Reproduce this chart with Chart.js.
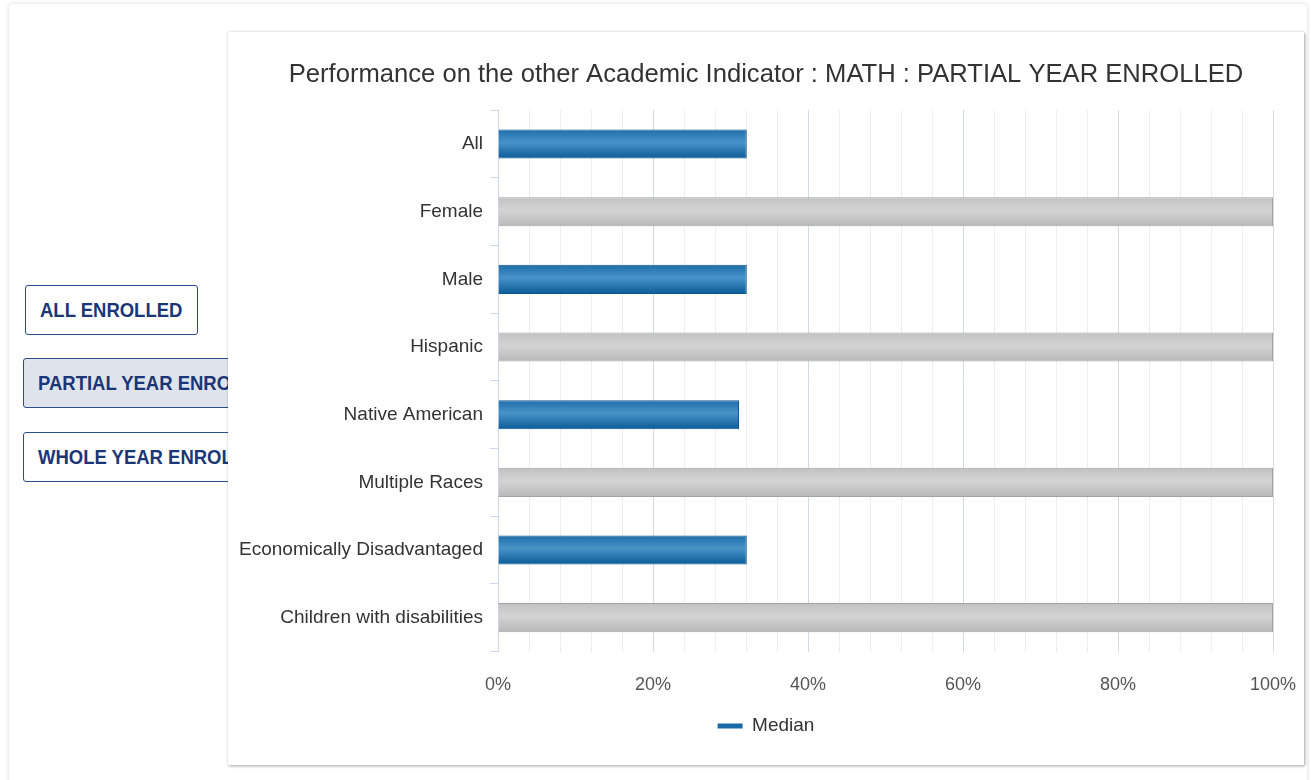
<!DOCTYPE html>
<html>
<head>
<meta charset="utf-8">
<script src="https://cdn.jsdelivr.net/npm/chart.js@4/dist/chart.umd.min.js"></script>
<style>
    html, body { margin: 0; padding: 0; background: #ffffff; }
    body { width: 1311px; height: 780px; position: relative; overflow: hidden; font-family: "Liberation Sans", Arial, sans-serif; }
    .page { position: absolute; left: 9px; top: 4px; width: 1298px; height: 800px; background: #fff;
        border-radius: 4px; box-shadow: 0 0 4px rgba(0, 0, 0, 0.16); }
    .btn { position: absolute; box-sizing: border-box; height: 50px; border: 1.5px solid #2f4c8c; border-radius: 3px;
        background: #fff; color: #1b3676; font-family: "Liberation Sans", Arial, sans-serif;
        font-weight: bold; font-size: 21px; line-height: 47px; padding-left: 14px; white-space: nowrap; overflow: hidden; }
    .btn span { display: inline-block; transform: scaleX(0.88); transform-origin: 0 50%; }
    .btn.active { background: #dfe3ec; }
    .card { position: absolute; left: 228px; top: 32px; width: 1076px; height: 733px; background: #fff;
        box-shadow: 1px 1px 3px rgba(0, 0, 0, 0.35), 0 0 2px rgba(0, 0, 0, 0.08); z-index: 2; }
</style>
</head>
<body>
<div class="page"></div>
<div class="btn" style="left:25px; top:285px; width:173px;"><span>ALL ENROLLED</span></div>
<div class="btn active" style="left:23px; top:358px; width:240px;"><span>PARTIAL YEAR ENROLLED</span></div>
<div class="btn" style="left:23px; top:432px; width:240px;"><span>WHOLE YEAR ENROLLED</span></div>
<div class="card"><canvas id="performance" width="1076" height="733"></canvas></div>
<script>
    // groups shown on the y axis
    const groups = ["All", "Female", "Male", "Hispanic", "Native American", "Multiple Races",
        "Economically Disadvantaged", "Children with disabilities"];
    // median percent, null where there is no result
    const median = [32.1, null, 32.1, null, 31.1, null, 32.1, null];
    // grey "no data" bars fill the whole row
    const noData = [null, 100, null, 100, null, 100, null, 100];

    const barPct = 0.43;

    Chart.defaults.font.family = '"Liberation Sans", Arial, sans-serif';

    function shaded(edge, mid, bottom) {
        return function (ctx) {
            const chart = ctx.chart;
            const ys = chart.scales.y;
            if (!ys || ctx.type !== 'data' || !ys.height) return mid;
            const c = ys.getPixelForValue(ctx.dataIndex);
            const h = ys.height / groups.length * barPct;
            const g = chart.ctx.createLinearGradient(0, c - h / 2, 0, c + h / 2);
            g.addColorStop(0, edge);
            g.addColorStop(0.45, mid);
            g.addColorStop(1, bottom);
            return g;
        };
    }

    const chart = new Chart(document.getElementById('performance'), {
        type: 'bar',
        data: {
            labels: groups,
            datasets: [{
                label: 'Median',
                data: median,
                grouped: false,
                backgroundColor: shaded('#1f6fab', '#4892c7', '#0a5b97'),
                borderColor: '#0b5790',
                borderWidth: {top: 1, bottom: 1, right: 1, left: 0},
                barPercentage: barPct,
                categoryPercentage: 1
            }, {
                label: 'No Data',
                data: noData,
                grouped: false,
                backgroundColor: shaded('#c2c2c2', '#d3d3d3', '#b9b9b9'),
                borderColor: '#a3a3a3',
                borderWidth: {top: 1, bottom: 1, right: 1, left: 0},
                barPercentage: barPct,
                categoryPercentage: 1
            }]
        },
        options: {
            indexAxis: 'y',
            responsive: false,
            animation: false,
            layout: {padding: {top: 28, right: 0, bottom: 19.5, left: 0}},
            scales: {
                x: {
                    min: 0,
                    max: 100,
                    ticks: {
                        stepSize: 4,
                        autoSkip: false,
                        maxRotation: 0,
                        padding: 23,
                        color: '#555',
                        font: {size: 18},
                        callback: function (v) { return v % 20 === 0 ? v + '%' : ''; }
                    },
                    grid: {
                        drawTicks: false,
                        color: function (ctx) {
                            return ctx.tick && ctx.tick.value % 20 === 0 ? '#d4dae3' : '#ebeef2';
                        }
                    },
                    border: {display: false},
                    afterFit: function (scale) {
                        scale.height = 44;
                        scale.paddingRight = 31;
                    }
                },
                y: {
                    offset: true,
                    ticks: {color: '#333', font: {size: 19}, padding: 7},
                    grid: {drawOnChartArea: false, tickLength: 8, color: '#ccd6eb', offset: true},
                    border: {color: '#ccd6eb'},
                    afterFit: function (scale) { scale.width = 270; }
                }
            },
            plugins: {
                title: {
                    display: true,
                    text: 'Performance on the other Academic Indicator : MATH : PARTIAL YEAR ENROLLED',
                    color: '#333',
                    font: {size: 25.6, weight: 'normal'},
                    padding: {top: 0, bottom: 19.5}
                },
                legend: {
                    position: 'bottom',
                    labels: {
                        boxWidth: 25,
                        boxHeight: 5,
                        padding: 21,
                        color: '#333',
                        font: {size: 19},
                        filter: function (item) { return item.datasetIndex === 0; },
                        generateLabels: function (c) {
                            return Chart.defaults.plugins.legend.labels.generateLabels(c).map(function (item) {
                                item.fillStyle = '#1a6aa6';
                                item.strokeStyle = '#1a6aa6';
                                item.lineWidth = 0;
                                return item;
                            });
                        }
                    }
                },
                tooltip: {enabled: false}
            }
        }
    });
</script>
</body>
</html>
